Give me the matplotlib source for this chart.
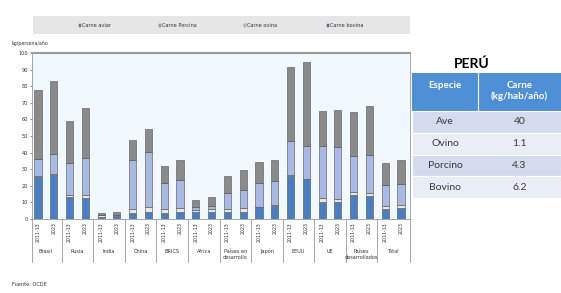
import numpy as np
import matplotlib.pyplot as plt
from matplotlib.patches import Rectangle

plt.switch_backend('Agg')

# datos (kg/persona/año)
grupos = ['Brasil', 'Rusia', 'India', 'China', 'BRICS', 'Africa', 'Países en\ndesarrollo',
          'Japón', 'EEUU', 'UE', 'Países\ndesarrollados', 'Total']
periodos = ['2011-13', '2023']
bovino = [25.3, 26.3, 13.5, 12.7, 1.5, 1.6, 3.4, 4.0, 3.8, 4.0, 4.2, 4.5,
          4.0, 4.4, 7.1, 7.9, 25.9, 23.8, 10.5, 10.1, 14.5, 14.1, 6.1, 6.5]
ovino = [0.6, 0.6, 1.2, 2.0, 0.7, 0.8, 2.7, 3.5, 2.3, 2.7, 1.5, 1.7,
         2.1, 2.3, 0.4, 0.5, 0.5, 0.5, 2.0, 2.0, 1.7, 1.5, 2.0, 2.2]
porcino = [10.5, 12.5, 19.2, 21.9, 0.3, 0.3, 29.7, 32.9, 15.5, 16.5, 1.5, 1.8,
           9.5, 10.5, 14.3, 14.2, 20.5, 19.7, 31.5, 31.3, 21.6, 22.8, 12.1, 12.5]
aviar = [41.4, 43.8, 25.3, 30.5, 1.0, 1.3, 11.7, 14.1, 10.1, 12.6, 4.3, 5.1,
         10.3, 12.1, 12.5, 13.2, 44.6, 50.3, 21.1, 22.3, 26.6, 29.7, 13.5, 14.6]

# tabla Perú
especies = ['Ave', 'Ovino', 'Porcino', 'Bovino']
carne_peru = ['40', '1.1', '4.3', '6.2']

W, H = 561, 293
fig = plt.figure(figsize=(W / 100, H / 100), dpi=100)
fig.patch.set_facecolor('white')

def fx(x):
    return x / W

def fy(y):
    return 1 - y / H

c_bov, c_ovi, c_por, c_ave = '#4a7ec2', '#e9e7e0', '#a8b9e6', '#8a8a8a'

# ejes del gráfico
x0, x1, ytop, ybot = 32, 410, 53, 219
ax = fig.add_axes([fx(x0), fy(ybot), (x1 - x0) / W, (ybot - ytop) / H])
ax.set_facecolor('#f1f9ff')

n = len(bovino)
x = np.arange(n)
b1 = np.array(bovino)
b2 = b1 + np.array(ovino)
b3 = b2 + np.array(porcino)
kw = dict(width=0.45, edgecolor='#505050', linewidth=0.4)
ax.bar(x, bovino, color=c_bov, **kw)
ax.bar(x, ovino, bottom=b1, color=c_ovi, **kw)
ax.bar(x, porcino, bottom=b2, color=c_por, **kw)
ax.bar(x, aviar, bottom=b3, color=c_ave, **kw)

ax.set_xlim(-0.38, n - 1 + 0.57)
ax.set_ylim(0, 100)
ax.set_yticks(range(0, 101, 10))
ax.tick_params(axis='y', labelsize=3.6, length=1.5, width=0.4, pad=1.5, colors='#333333')
ax.set_xticks(x)
ax.set_xticklabels(periodos * len(grupos), rotation=90, fontsize=3.4, color='#333333')
ax.tick_params(axis='x', length=0, pad=2)
for s in ['left', 'right', 'bottom']:
    ax.spines[s].set_color('#999999')
    ax.spines[s].set_linewidth(0.6)
ax.spines['top'].set_color('#999999')
ax.spines['top'].set_linewidth(1.5)

# separadores de grupo y nombres
trans = ax.get_xaxis_transform()
for g in range(len(grupos) + 1):
    xs = 2 * g - 0.5 if g > 0 else -0.38
    if g == len(grupos):
        xs = n - 1 + 0.57
    ax.plot([xs, xs], [0, -0.26], color='#999999', lw=0.6, transform=trans, clip_on=False)
for g, name in enumerate(grupos):
    ax.text(2 * g + 0.5, -0.18, name, transform=trans, ha='center', va='top',
            fontsize=3.6, color='#333333', linespacing=1.3)

fig.text(fx(12), fy(43), 'kg/persona/año', fontsize=3.4, color='#333333', ha='left', va='center')

# leyenda
fig.patches.append(Rectangle((fx(33), fy(34)), (410 - 33) / W, 18 / H,
                             transform=fig.transFigure, facecolor='#e6e6e6', edgecolor='none'))
leyenda = [('Carne aviar', c_ave, 82), ('Carne Porcina', c_por, 162),
           ('Carne ovina', c_ovi, 247), ('Carne bovina', c_bov, 330)]
for lab, col, px in leyenda:
    fig.patches.append(Rectangle((fx(px - 3.5), fy(27)), 2.8 / W, 2.8 / H, transform=fig.transFigure,
                                 facecolor=col, edgecolor='#505050', linewidth=0.3))
    fig.text(fx(px), fy(25.5), lab, fontsize=3.6, color='#333333', ha='left', va='center')

fig.text(fx(12), fy(285), 'Fuente: OCDE', fontsize=3.6, color='#333333', ha='left', va='center')

# tabla Perú
tf = 'Lato'
fig.text(fx(472), fy(64), 'PERÚ', fontsize=10, fontweight='bold', family=tf,
         ha='center', va='center', color='black')
tx0, tx1, txm = 412, 561, 478
fig.patches.append(Rectangle((fx(tx0), fy(111)), (tx1 - tx0) / W, 38 / H,
                             transform=fig.transFigure, facecolor='#4f8fd6', edgecolor='none'))
fig.text(fx((tx0 + txm) / 2), fy(86), 'Especie', fontsize=7, fontweight='bold', family=tf,
         ha='center', va='center', color='white')
fig.text(fx((txm + tx1) / 2), fy(91), 'Carne\n(kg/hab/año)', fontsize=7, fontweight='bold',
         family=tf, ha='center', va='center', color='white', linespacing=1.1)
row_cols = ['#d3dbec', '#e9edf5']
for i, (esp, val) in enumerate(zip(especies, carne_peru)):
    ytop_r = 111 + i * 21.8
    fig.patches.append(Rectangle((fx(tx0), fy(ytop_r + 21.8)), (tx1 - tx0) / W, 21.8 / H,
                                 transform=fig.transFigure, facecolor=row_cols[i % 2],
                                 edgecolor='white', linewidth=0.8))
    fig.text(fx((tx0 + txm) / 2), fy(ytop_r + 11), esp, fontsize=7.5, family=tf,
             ha='center', va='center', color='#3a3a3a')
    fig.text(fx((txm + tx1) / 2), fy(ytop_r + 11), val, fontsize=7.5, family=tf,
             ha='center', va='center', color='#3a3a3a')
fig.lines.append(plt.Line2D([fx(txm), fx(txm)], [fy(73), fy(111)], transform=fig.transFigure,
                            color='white', lw=0.8))

fig.savefig('out.png', dpi=100)
